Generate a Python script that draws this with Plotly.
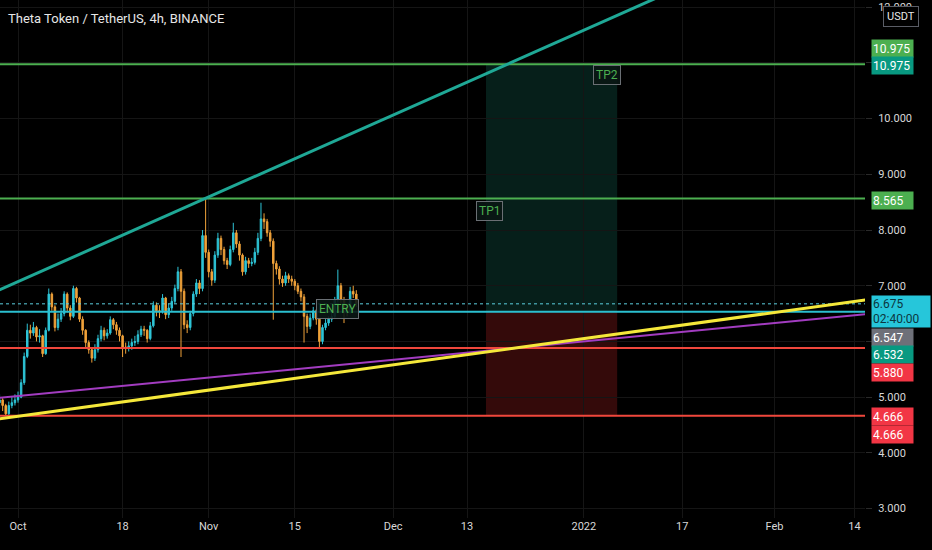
import pandas as pd
import plotly.graph_objects as go

# THETA/USDT (12h bars)
closes = [4.95, 4.85, 4.70, 4.85, 4.90, 4.95, 5.00, 5.26, 5.73, 6.20,
          6.15, 6.25, 6.08, 6.10, 5.78, 6.20, 6.85, 6.62, 6.25, 6.40,
          6.50, 6.85, 6.60, 6.45, 6.95, 6.78, 6.40, 6.20, 5.98, 5.85,
          5.70, 5.85, 6.05, 6.20, 6.10, 6.15, 6.39, 6.30, 6.20, 6.10,
          5.90, 5.88, 5.92, 5.98, 6.00, 6.12, 6.22, 6.20, 6.05, 6.28,
          6.65, 6.55, 6.55, 6.78, 6.48, 6.60, 6.72, 6.95, 7.25, 6.90,
          6.30, 6.25, 6.50, 6.85, 7.05, 6.95, 7.90, 7.60, 7.25, 7.10,
          7.55, 7.85, 7.65, 7.45, 7.38, 7.65, 7.95, 7.75, 7.55, 7.25,
          7.45, 7.40, 7.42, 7.60, 7.85, 8.20, 8.15, 7.95, 7.80, 7.40,
          7.30, 7.12, 7.05, 7.18, 7.12, 7.08, 7.00, 6.90, 6.80, 6.45,
          6.27, 6.42, 6.55, 6.40, 6.00, 6.25, 6.33, 6.40, 6.45, 6.75,
          7.00, 6.75, 6.60, 6.55, 6.90, 6.85, 6.675]
highs = [5.05, 4.98, 4.88, 4.92, 5.00, 5.05, 5.10, 5.32, 5.80, 6.32,
         6.30, 6.35, 6.28, 6.22, 6.12, 6.25, 6.95, 6.88, 6.65, 6.50,
         6.60, 6.90, 6.88, 6.65, 7.00, 6.98, 6.80, 6.45, 6.22, 6.02,
         5.90, 5.95, 6.12, 6.28, 6.25, 6.22, 6.45, 6.42, 6.35, 6.25,
         6.12, 5.98, 6.00, 6.05, 6.10, 6.20, 6.28, 6.28, 6.22, 6.35,
         6.72, 6.70, 6.65, 6.85, 6.80, 6.68, 6.80, 7.02, 7.34, 7.30,
         6.95, 6.38, 6.55, 6.90, 7.12, 7.10, 8.00, 8.565, 7.65, 7.30,
         7.62, 7.95, 7.90, 7.70, 7.50, 7.72, 8.13, 8.00, 7.80, 7.58,
         7.52, 7.50, 7.50, 7.68, 7.95, 8.49, 8.30, 8.20, 8.00, 7.85,
         7.45, 7.35, 7.18, 7.25, 7.22, 7.18, 7.12, 7.05, 6.95, 6.85,
         6.50, 6.50, 6.62, 6.58, 6.42, 6.30, 6.40, 6.45, 6.52, 6.80,
         7.29, 7.05, 6.80, 6.65, 6.98, 7.00, 6.92]
lows = [4.80, 4.75, 4.66, 4.68, 4.80, 4.85, 4.90, 4.98, 5.22, 5.70,
        6.05, 6.10, 6.00, 5.98, 5.72, 5.76, 6.18, 6.55, 6.18, 6.20,
        6.35, 6.45, 6.52, 6.38, 6.42, 6.70, 6.35, 6.12, 5.90, 5.78,
        5.62, 5.65, 5.80, 6.00, 6.02, 6.05, 6.12, 6.22, 6.12, 6.00,
        5.72, 5.78, 5.82, 5.85, 5.92, 5.95, 6.08, 6.10, 5.98, 6.02,
        6.25, 6.45, 6.42, 6.50, 6.40, 6.42, 6.55, 6.68, 6.90, 5.72,
        6.22, 6.15, 6.20, 6.45, 6.80, 6.85, 6.90, 7.50, 7.15, 7.00,
        7.05, 7.50, 7.55, 7.38, 7.30, 7.35, 7.60, 7.68, 7.45, 7.18,
        7.20, 7.32, 7.35, 7.38, 7.55, 7.80, 8.02, 7.88, 7.70, 6.39,
        7.20, 7.02, 6.98, 7.00, 7.05, 7.00, 6.92, 6.85, 6.72, 5.98,
        6.15, 6.22, 6.38, 6.30, 5.88, 5.95, 6.20, 6.28, 6.35, 6.42,
        6.70, 6.68, 6.33, 6.45, 6.50, 6.78, 6.62]
opens = [4.90] + closes[:-1]
times = pd.date_range("2021-09-28", periods=len(closes), freq="12h")

# drawn levels
tp2 = 10.975
tp1 = 8.565
entry = 6.532
stop1 = 5.880
stop2 = 4.666
last_price = 6.675
purple_last = 6.547

# trend lines (date, price) end points
teal_line = [("2021-09-20", 6.534), ("2022-01-20", 12.52)]
yellow_line = [("2021-09-26", 4.58), ("2022-02-28", 6.93)]
purple_line = [("2021-09-26", 4.968), ("2022-02-28", 6.62)]

# long position box
box_start = "2021-12-16 02:00"
box_end = "2022-01-06 10:00"

x_ticks = ["2021-10-01", "2021-10-18", "2021-11-01", "2021-11-15", "2021-12-01",
           "2021-12-13", "2022-01-01", "2022-01-17", "2022-02-01", "2022-02-14"]
x_text = ["Oct", "18", "Nov", "15", "Dec", "13", "2022", "17", "Feb", "14"]
y_ticks = [3, 4, 5, 6, 7, 8, 9, 10, 11, 12]
y_text = ["3.000", "4.000", "5.000", "", "7.000", "8.000", "9.000", "10.000", "", "12.000"]

W, H = 932, 550
PW, PH = 865, 518
FONT = "Roboto"


def px(x):
    return x / PW


def py(y):
    return 1 - y / PH


fig = go.Figure()
fig.add_trace(go.Candlestick(
    x=times, open=opens, high=highs, low=lows, close=closes,
    increasing=dict(line=dict(color="#2ec4d6", width=1), fillcolor="#2ec4d6"),
    decreasing=dict(line=dict(color="#f0a23a", width=1), fillcolor="#f0a23a"),
    whiskerwidth=0, showlegend=False, hoverinfo="skip"))

shapes = []
# position tool
shapes.append(dict(type="rect", xref="x", yref="y", x0=box_start, x1=box_end,
                   y0=entry, y1=tp2, fillcolor="rgba(20,110,95,0.28)", line_width=0,
                   layer="below"))
shapes.append(dict(type="rect", xref="x", yref="y", x0=box_start, x1=box_end,
                   y0=stop2, y1=entry, fillcolor="rgba(150,30,30,0.35)", line_width=0,
                   layer="below"))
# horizontal levels
for lvl, col in [(tp2, "#4caf50"), (tp1, "#4caf50"), (entry, "#2bbfcf"),
                 (stop1, "#f0473c"), (stop2, "#f0473c")]:
    shapes.append(dict(type="line", xref="paper", yref="y", x0=0, x1=1, y0=lvl, y1=lvl,
                       line=dict(color=col, width=2)))
shapes.append(dict(type="line", xref="paper", yref="y", x0=0, x1=1, y0=last_price,
                   y1=last_price, line=dict(color="#5ccfe0", width=1, dash="dot")))
# trend lines
for pts, col, w in [(purple_line, "#a23cc0", 2), (yellow_line, "#f5e83a", 3),
                    (teal_line, "#1fa896", 3)]:
    shapes.append(dict(type="line", xref="x", yref="y", x0=pts[0][0], y0=pts[0][1],
                       x1=pts[1][0], y1=pts[1][1], line=dict(color=col, width=w)))

ann = []
ann.append(dict(xref="paper", yref="paper", x=px(6), y=py(18), xanchor="left",
                yanchor="middle", showarrow=False,
                text="Theta Token / TetherUS, 4h, BINANCE",
                font=dict(family=FONT, size=13, color="#e6e6e6")))
# tags on the chart
for txt, d, p in [("TP2", "2022-01-04 19:00", 10.79), ("TP1", "2021-12-16 14:00", 8.35),
                  ("ENTRY", "2021-11-22 00:00", 6.59)]:
    ann.append(dict(xref="x", yref="y", x=d, y=p, text=txt, showarrow=False,
                    font=dict(family=FONT, size=12, color="#4caf50"),
                    bgcolor="rgba(10,22,20,0.9)", bordercolor="#6a6f74",
                    borderwidth=1, borderpad=2))

# price scale tags
tags = [
    (f"{tp2:.3f}", "#4caf50", "#ffffff", 48),
    (f"{tp2:.3f}", "#089981", "#ffffff", 65.5),
    (f"{tp1:.3f}", "#4caf50", "#ffffff", 200),
    (f"{purple_last:.3f}", "#6e7079", "#ffffff", 337),
    (f"{entry:.3f}", "#089981", "#ffffff", 354.5),
    (f"{stop1:.3f}", "#f23645", "#ffffff", 372.5),
    (f"{stop2:.3f}", "#f23645", "#ffffff", 416.5),
    (f"{stop2:.3f}", "#f23645", "#ffffff", 434),
]
for txt, bg, fg, yc in tags:
    ann.append(dict(xref="paper", yref="paper", x=px(871), y=py(yc), xanchor="left",
                    yanchor="middle", text=txt, showarrow=False, width=39, height=15,
                    align="left", bgcolor=bg, borderpad=1,
                    font=dict(family=FONT, size=12, color=fg)))
ann.append(dict(xref="paper", yref="paper", x=px(871), y=py(311.5), xanchor="left",
                yanchor="middle", text=f"{last_price:.3f}<br>02:40:00", showarrow=False,
                width=56, height=29, align="left", bgcolor="#26c6da", borderpad=1,
                font=dict(family=FONT, size=12, color="#0c3640")))
ann.append(dict(xref="paper", yref="paper", x=px(901), y=py(16), xanchor="center",
                yanchor="middle", text="USDT", showarrow=False, bgcolor="#000000",
                bordercolor="#5a5d66", borderwidth=1, borderpad=3,
                font=dict(family=FONT, size=11, color="#e8e8e8")))

fig.update_layout(
    width=W, height=H,
    margin=dict(l=0, r=W - PW, t=0, b=H - PH),
    paper_bgcolor="#000000", plot_bgcolor="#000000",
    shapes=shapes, annotations=ann,
    xaxis=dict(range=["2021-09-28 01:40", "2022-02-15 17:00"], rangeslider=dict(visible=False),
               tickvals=x_ticks, ticktext=x_text, showgrid=True, gridcolor="#151515",
               zeroline=False, showline=False, ticks="",
               tickfont=dict(family=FONT, size=11, color="#d8d8d8")),
    yaxis=dict(range=[2.83, 12.13], side="right", tickvals=y_ticks, ticktext=y_text,
               showgrid=True, gridcolor="#151515", zeroline=False, showline=False,
               ticks="outside", ticklen=6, tickcolor="#2a2a2a", ticklabelstandoff=4,
               tickfont=dict(family=FONT, size=11, color="#d8d8d8")),
    hovermode=False,
)

fig.write_html("out.html", config={"displayModeBar": False},
               post_script="document.body.style.margin='0';")
